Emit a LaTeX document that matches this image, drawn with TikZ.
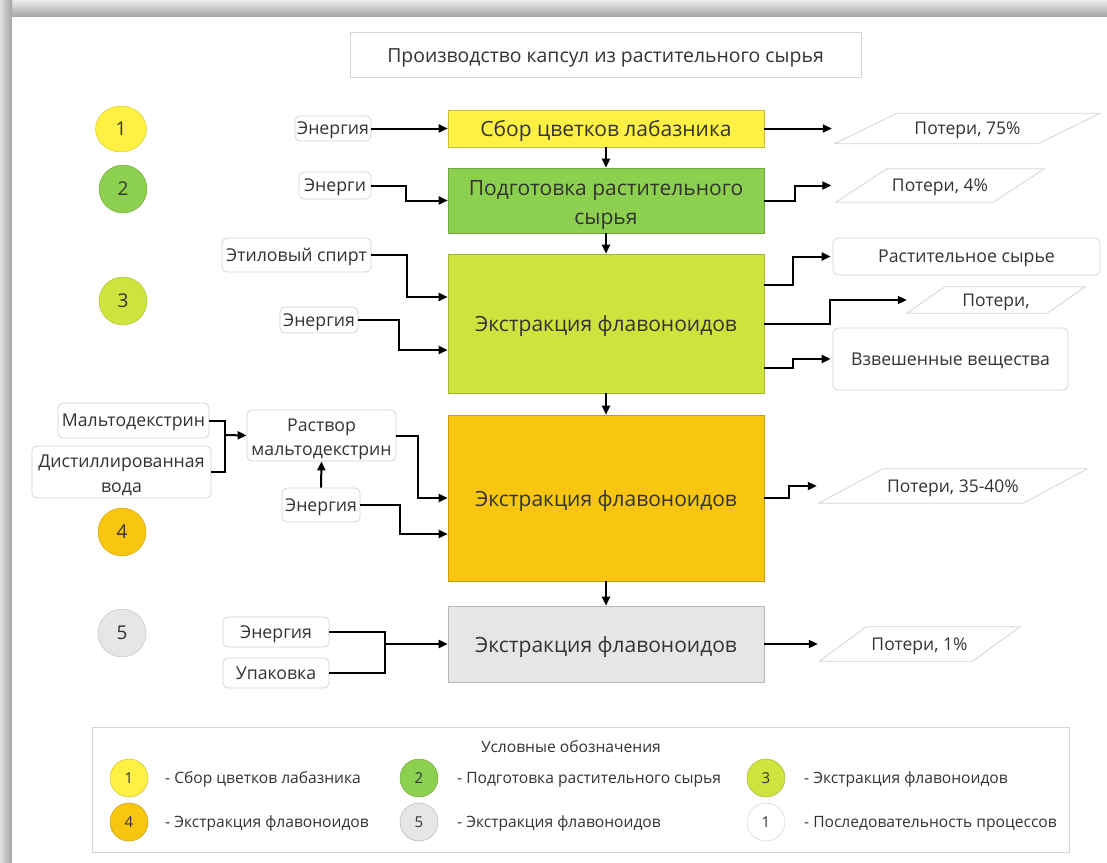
\documentclass[tikz,border=0pt]{standalone}
\usepackage{fontspec}
\setmainfont{Open Sans}
\usetikzlibrary{arrows.meta,calc,shapes.geometric}
\definecolor{txt}{HTML}{333333}
\definecolor{bord}{HTML}{D4D4D4}
\definecolor{cyel}{HTML}{FFF143}
\definecolor{cgrn}{HTML}{8DD050}
\definecolor{clim}{HTML}{CFE33F}
\definecolor{corg}{HTML}{F8C611}
\definecolor{cgry}{HTML}{E6E6E6}
\newcommand\lowtxt[2]{\raisebox{-#1}[0pt][0pt]{#2}}
\newcommand\lossshape[2]{%
  \draw[bord,line width=0.8pt] ($(#1.south west)+(-#2/2,0)$) -- ($(#1.south east)+(-#2/2,0)$)
    -- ($(#1.north east)+(#2/2,0)$) -- ($(#1.north west)+(#2/2,0)$) -- cycle;}
\begin{document}
\begin{tikzpicture}[x=1pt,y=-1pt,
  proc/.style={rectangle, fill=#1, draw=#1!80!black, line width=0.6pt, minimum width=316pt,
    text=txt, font=\fontsize{21}{29}\selectfont, inner sep=0pt, align=center},
  lbl/.style={rectangle, rounded corners=5pt, draw=bord, fill=white, line width=0.8pt,
    font=\fontsize{17.7}{24}\selectfont, text=txt, inner sep=0pt, align=center},
  num/.style={circle, fill=#1, draw=#1!85!black, line width=0.5pt, inner sep=0pt, minimum size=48pt,
    font=\fontsize{19}{20}\selectfont, text=txt},
  lnum/.style={circle, fill=#1, draw=#1!80!black, line width=0.5pt, inner sep=0pt, minimum size=38pt,
    font=\fontsize{15}{16}\selectfont, text=txt},
  loss/.style={draw=none, inner sep=0pt, font=\fontsize{17.5}{20}\selectfont, text=txt},
  legtxt/.style={anchor=west, inner sep=0pt, font=\fontsize{15.6}{17}\selectfont, text=txt},
  flow/.style={line width=2pt, -{Triangle[length=9pt,width=8pt]}},
  link/.style={line width=2pt}]
\useasboundingbox (0,0) rectangle (1107,862);
% page shadow
\shade[top color=black!8, bottom color=black!36] (0,0) rectangle (1107,17);
\shade[left color=black!12, right color=black!36] (0,0) rectangle (12,862);
\fill[white] (12,17) rectangle (1107,862);

% title
\node[rectangle, draw=bord, line width=0.8pt, fill=white, minimum width=511pt, minimum height=45pt,
  text=txt, font=\fontsize{19.4}{22}\selectfont] (title) at (605.5,54.5) {\lowtxt{7.8pt}{Производство капсул из растительного сырья}};

% process boxes
\node[proc=cyel, minimum height=37pt] (b1) at (606,128.5) {\lowtxt{8.2pt}{Сбор цветков лабазника}};
\node[proc=cgrn, minimum height=65pt] (b2) at (606,200.5) {\rule{0pt}{24pt}Подготовка растительного\\сырья};
\node[proc=clim, minimum height=139pt] (b3) at (606,323.5) {\lowtxt{8.2pt}{Экстракция флавоноидов}};
\node[proc=corg, minimum height=166pt] (b4) at (606,498) {\lowtxt{8.2pt}{Экстракция флавоноидов}};
\node[proc=cgry, minimum height=76pt] (b5) at (606,644) {\lowtxt{8.2pt}{Экстракция флавоноидов}};

% step numbers
\node[num=cyel, ellipse, minimum width=51pt, minimum height=46pt] (c1) at (121,129) {1};
\node[num=cgrn] (c2) at (123,189) {2};
\node[num=clim] (c3) at (123,301) {3};
\node[num=corg] (c4) at (122,532) {4};
\node[num=cgry] (c5) at (122,633) {5};

% inputs
\node[lbl, minimum width=76pt, minimum height=25pt] (e1) at (333,128.5) {\lowtxt{6pt}{Энергия}};
\node[lbl, minimum width=72pt, minimum height=27pt] (e2) at (335,185.5) {\lowtxt{6pt}{Энерги}};
\node[lbl, minimum width=149pt, minimum height=34pt] (sp) at (296.5,255) {\lowtxt{6pt}{Этиловый спирт}};
\node[lbl, minimum width=78pt, minimum height=26pt] (e3) at (319,320) {\lowtxt{6pt}{Энергия}};
\node[lbl, minimum width=151pt, minimum height=35pt] (malt) at (133.5,420.5) {\lowtxt{6pt}{Мальтодекстрин}};
\node[lbl, minimum width=179pt, minimum height=52pt] (dist) at (121.5,472) {\rule{0pt}{19.5pt}Дистиллированная\\[1pt]вода};
\node[lbl, minimum width=149pt, minimum height=51pt] (rast) at (321.5,435.5) {\rule{0pt}{19.5pt}Раствор\\мальтодекстрин};
\node[lbl, minimum width=78pt, minimum height=34pt] (e4) at (321,505) {\lowtxt{6pt}{Энергия}};
\node[lbl, minimum width=106pt, minimum height=30pt] (e5) at (276,632) {\lowtxt{6pt}{Энергия}};
\node[lbl, minimum width=106pt, minimum height=30pt] (upak) at (276,673) {\lowtxt{6pt}{Упаковка}};

% outputs
\node[loss, minimum width=203pt, minimum height=30pt] (p1) at (967.5,128.5) {\lowtxt{6pt}{Потери, 75\%}};
\lossshape{p1}{62}
\node[loss, minimum width=157pt, minimum height=33pt] (p2) at (940,185.5) {\lowtxt{6pt}{Потери, 4\%}};
\lossshape{p2}{51}
\node[lbl, minimum width=267pt, minimum height=37pt] (rs) at (966.5,256.5) {\lowtxt{6pt}{Растительное сырье}};
\node[loss, minimum width=140pt, minimum height=26pt] (p3) at (996,300) {\lowtxt{6pt}{Потери,}};
\lossshape{p3}{38}
\node[lbl, minimum width=235pt, minimum height=62pt] (vz) at (950.5,359) {\lowtxt{6pt}{Взвешенные вещества}};
\node[loss, minimum width=204pt, minimum height=34pt] (p4) at (953,486) {\lowtxt{6pt}{Потери, 35-40\%}};
\lossshape{p4}{64}
\node[loss, minimum width=153pt, minimum height=34pt] (p5) at (919.5,644) {\lowtxt{6pt}{Потери, 1\%}};
\lossshape{p5}{47}

% main flow
\draw[flow] (b1.south) -- (b2.north);
\draw[flow] (b2.south) -- (b3.north);
\draw[flow] (b3.south) -- (b4.north);
\draw[flow] (b4.south) -- (b5.north);

% input connectors
\draw[flow] (e1.east) -- (b1.west);
\draw[flow] (e2.east) -- ++(35,0) |- (b2.west);
\draw[flow] (sp.east) -- ++(36,0) |- ([yshift=26.5pt]b3.west);
\draw[flow] (e3.east) -- ++(41,0) |- ([yshift=-26.5pt]b3.west);
\coordinate (j1) at (225,435);
\draw[link] (malt.east) -| (j1);
\draw[link] (dist.east) -| (j1);
\draw[flow] (j1) -- (rast.west);
\draw[flow] (e4.north) -- (rast.south);
\draw[flow] (rast.east) -- ++(22,0) |- (b4.west);
\draw[flow] (e4.east) -- ++(40,0) |- ([yshift=-36pt]b4.west);
\coordinate (j2) at (385,644);
\draw[link] (e5.east) -| (j2);
\draw[link] (upak.east) -| (j2);
\draw[flow] (j2) -- (b5.west);

% output connectors
\draw[flow] (b1.east) -- ([xshift=-34pt]p1.west);
\draw[flow] (b2.east) -- ++(31,0) |- ([xshift=-30pt]p2.west);
\draw[flow] ([yshift=38.5pt]b3.east) -- ++(29,0) |- ([xshift=-2pt]rs.west);
\draw[flow] (b3.east) -- ++(66,0) |- ([xshift=-19pt]p3.west);
\draw[flow] ([yshift=-44.5pt]b3.east) -- ++(29,0) |- ([xshift=-2pt]vz.west);
\draw[flow] (b4.east) -- ++(25,0) |- ([xshift=-34pt]p4.west);
\draw[flow] (b5.east) -- ([xshift=-25pt]p5.west);

% legend
\node[rectangle, draw=bord, line width=0.8pt, fill=white, minimum width=977pt, minimum height=125pt] (leg) at (580.5,789.5) {};
\node[inner sep=0pt, font=\fontsize{15.6}{17}\selectfont, text=txt] (legt) at (571,747) {\lowtxt{5.5pt}{Условные обозначения}};
\node[lnum=cyel] (l1) at (129,778) {1};
\node[legtxt] (lt1) at (165,778) {\lowtxt{5.5pt}{- Сбор цветков лабазника}};
\node[lnum=cgrn] (l2) at (419,778) {2};
\node[legtxt] (lt2) at (457,778) {\lowtxt{5.5pt}{- Подготовка растительного сырья}};
\node[lnum=clim] (l3) at (766,778) {3};
\node[legtxt] (lt3) at (804,778) {\lowtxt{5.5pt}{- Экстракция флавоноидов}};
\node[lnum=corg] (l4) at (129,822) {4};
\node[legtxt] (lt4) at (165,822) {\lowtxt{5.5pt}{- Экстракция флавоноидов}};
\node[lnum=cgry] (l5) at (419,822) {5};
\node[legtxt] (lt5) at (457,822) {\lowtxt{5.5pt}{- Экстракция флавоноидов}};
\node[lnum=white, draw=bord] (l6) at (766,822) {1};
\node[legtxt] (lt6) at (804,822) {\lowtxt{5.5pt}{- Последовательность процессов}};
\end{tikzpicture}
\end{document}
